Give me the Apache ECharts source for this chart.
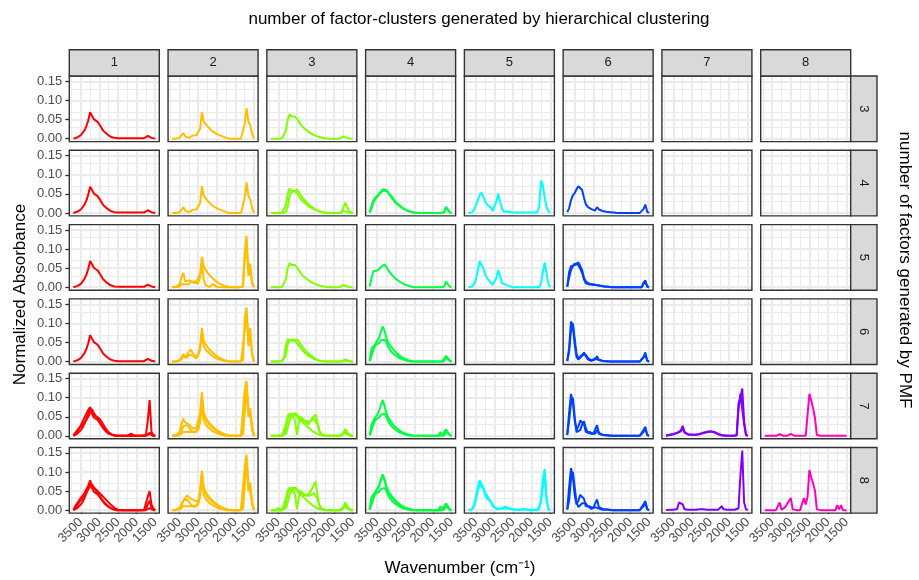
<!DOCTYPE html>
<html>
<head>
<meta charset="utf-8">
<title>FTIR factor profiles by cluster</title>
<script src="https://cdn.jsdelivr.net/npm/echarts@6/dist/echarts.min.js"></script>
<style>
html,body{margin:0;padding:0;background:#ffffff;}
#chart{width:919px;height:580px;}
</style>
</head>
<body>
<div id="chart"></div>
<script>
// Wavenumber grid shared by every profile (cm^-1), high to low
const WAVENUMBERS = [
  3700,3650,3600,3550,3500, 3450,3400,3350,3300,3250,
  3200,3150,3100,3050,3000, 2950,2900,2850,2800,2750,
  2700,2650,2600,2550,2500, 2450,2400,2350,2300,2250,
  2200,2150,2100,2050,2000, 1950,1900,1850,1800,1750,
  1700,1650,1600,1550,1500
];

// Facet labels
const CLUSTER_LABELS = ['1','2','3','4','5','6','7','8'];
const FACTOR_LABELS = ['3','4','5','6','7','8'];
const CLUSTER_COLORS = ['#FF0000','#FFBF00','#80FF00','#00FF40','#00FFFF','#0040FF','#8000FF','#FF00BF'];

// Axis ticks and grid lines
const X_TICKS = [3500,3000,2500,2000,1500];
const X_MINOR = [3750,3250,2750,2250,1750];
const Y_TICKS = [0,0.05,0.10,0.15];
const Y_MINOR = [0.025,0.075,0.125];

// Normalized absorbance profiles (one value per wavenumber above)
const R1 = [0.000,0.001,0.003,0.006,0.009, 0.014,0.022,0.033,0.048,0.069, 0.060,0.051,0.050,0.044,0.037, 0.029,0.021,0.016,0.012,0.008, 0.005,0.003,0.002,0.001,0.001, 0.001,0.001,0.001,0.001,0.001, 0.001,0.001,0.001,0.001,0.001, 0.001,0.001,0.001,0.001,0.004, 0.007,0.006,0.002,0.000,0.000];
const R5a = [0.001,0.008,0.014,0.020,0.028, 0.038,0.048,0.058,0.068,0.075, 0.062,0.055,0.056,0.048,0.038, 0.028,0.020,0.014,0.009,0.005, 0.003,0.002,0.001,0.000,0.000, 0.000,0.000,0.000,0.000,0.000, 0.002,0.006,0.001,0.000,0.000, 0.000,0.000,0.000,0.000,0.002, 0.040,0.094,0.010,0.002,0.000];
const R5b = [0.000,0.004,0.010,0.018,0.025, 0.030,0.035,0.042,0.050,0.062, 0.070,0.060,0.052,0.050,0.045, 0.038,0.030,0.022,0.015,0.009, 0.005,0.002,0.001,0.000,0.000, 0.000,0.000,0.000,0.000,0.000, 0.000,0.000,0.000,0.000,0.000, 0.000,0.000,0.000,0.000,0.001, 0.005,0.008,0.003,0.000,0.000];
const R5c = [0.000,0.002,0.005,0.010,0.015, 0.022,0.032,0.045,0.060,0.070, 0.058,0.048,0.045,0.042,0.035, 0.028,0.022,0.016,0.012,0.008, 0.005,0.003,0.001,0.000,0.000, 0.000,0.000,0.000,0.000,0.000, 0.000,0.000,0.000,0.000,0.000, 0.000,0.000,0.000,0.000,0.000, 0.003,0.005,0.001,0.000,0.000];
const R6a = [0.001,0.010,0.018,0.025,0.032, 0.038,0.045,0.055,0.065,0.078, 0.062,0.058,0.055,0.050,0.045, 0.040,0.035,0.030,0.025,0.020, 0.015,0.010,0.006,0.003,0.001, 0.000,0.000,0.000,0.000,0.000, 0.000,0.000,0.000,0.000,0.000, 0.000,0.000,0.000,0.000,0.005, 0.035,0.050,0.015,0.003,0.000];
const R6b = [0.000,0.005,0.012,0.020,0.026, 0.030,0.036,0.045,0.055,0.062, 0.068,0.060,0.052,0.046,0.038, 0.030,0.024,0.018,0.013,0.009, 0.006,0.003,0.001,0.000,0.000, 0.000,0.000,0.000,0.000,0.000, 0.000,0.000,0.000,0.000,0.000, 0.000,0.000,0.000,0.000,0.002, 0.015,0.025,0.006,0.001,0.000];

const O1 = [0.000,0.000,0.000,0.001,0.002, 0.006,0.015,0.006,0.001,0.002, 0.003,0.008,0.010,0.009,0.010, 0.025,0.070,0.045,0.038,0.032, 0.027,0.022,0.018,0.015,0.012, 0.010,0.008,0.006,0.004,0.002, 0.001,0.000,0.000,0.000,0.000, 0.000,0.000,0.000,0.002,0.040, 0.080,0.045,0.035,0.012,0.000];
const O3a = [0.000,0.000,0.001,0.003,0.008, 0.025,0.038,0.015,0.010,0.018, 0.020,0.015,0.020,0.015,0.018, 0.035,0.080,0.055,0.045,0.038, 0.032,0.027,0.022,0.018,0.014, 0.011,0.008,0.006,0.004,0.002, 0.001,0.000,0.000,0.000,0.000, 0.000,0.000,0.000,0.002,0.090, 0.135,0.045,0.062,0.010,0.000];
const O3b = [0.000,0.000,0.000,0.001,0.002, 0.008,0.012,0.008,0.005,0.008, 0.015,0.020,0.012,0.008,0.010, 0.025,0.060,0.020,0.005,0.002, 0.001,0.003,0.008,0.005,0.001, 0.000,0.000,0.000,0.000,0.000, 0.000,0.000,0.000,0.000,0.000, 0.000,0.000,0.000,0.001,0.070, 0.110,0.030,0.045,0.010,0.000];
const O4a = [0.000,0.000,0.001,0.002,0.004, 0.010,0.020,0.012,0.015,0.025, 0.032,0.022,0.015,0.012,0.015, 0.040,0.088,0.055,0.045,0.038, 0.032,0.027,0.022,0.018,0.014, 0.011,0.008,0.006,0.004,0.002, 0.001,0.000,0.000,0.000,0.000, 0.000,0.000,0.000,0.003,0.110, 0.142,0.060,0.088,0.020,0.000];
const O4b = [0.000,0.000,0.000,0.001,0.002, 0.005,0.012,0.008,0.010,0.018, 0.022,0.015,0.010,0.008,0.012, 0.030,0.070,0.040,0.032,0.026, 0.021,0.017,0.013,0.010,0.008, 0.006,0.004,0.003,0.002,0.001, 0.000,0.000,0.000,0.000,0.000, 0.000,0.000,0.000,0.002,0.080, 0.125,0.040,0.070,0.015,0.000];
const O5a = [0.000,0.001,0.002,0.005,0.010, 0.030,0.045,0.035,0.038,0.030, 0.025,0.020,0.018,0.020,0.025, 0.060,0.115,0.060,0.048,0.040, 0.034,0.028,0.023,0.019,0.015, 0.012,0.009,0.007,0.005,0.003, 0.002,0.001,0.000,0.000,0.000, 0.000,0.000,0.000,0.005,0.120, 0.144,0.075,0.080,0.025,0.000];
const O5b = [0.000,0.000,0.000,0.001,0.004, 0.012,0.025,0.020,0.028,0.022, 0.015,0.010,0.008,0.010,0.015, 0.035,0.080,0.040,0.030,0.024, 0.019,0.015,0.012,0.009,0.007, 0.005,0.003,0.002,0.001,0.000, 0.000,0.000,0.000,0.000,0.000, 0.000,0.000,0.000,0.002,0.090, 0.125,0.050,0.065,0.015,0.000];
const O5c = [0.000,0.000,0.000,0.001,0.002, 0.005,0.010,0.008,0.010,0.012, 0.010,0.008,0.010,0.012,0.018, 0.045,0.100,0.052,0.042,0.035, 0.029,0.024,0.020,0.016,0.012, 0.009,0.007,0.005,0.003,0.002, 0.001,0.000,0.000,0.000,0.000, 0.000,0.000,0.000,0.003,0.060, 0.135,0.060,0.072,0.018,0.000];
const O6a = [0.000,0.000,0.001,0.003,0.006, 0.015,0.025,0.030,0.038,0.039, 0.030,0.028,0.025,0.020,0.022, 0.050,0.103,0.060,0.048,0.040, 0.034,0.028,0.023,0.019,0.015, 0.012,0.009,0.007,0.005,0.003, 0.002,0.001,0.000,0.000,0.000, 0.000,0.000,0.000,0.005,0.110, 0.146,0.070,0.073,0.020,0.000];

const C1 = [0.000,0.000,0.000,0.000,0.000, 0.000,0.001,0.002,0.020,0.050, 0.064,0.058,0.054,0.058,0.056, 0.045,0.037,0.031,0.027,0.023, 0.019,0.015,0.012,0.010,0.008, 0.006,0.004,0.003,0.002,0.001, 0.000,0.000,0.000,0.000,0.000, 0.000,0.000,0.000,0.000,0.006, 0.009,0.002,0.000,0.000,0.000];
const C2b = [0.000,0.000,0.000,0.000,0.000, 0.000,0.000,0.000,0.002,0.015, 0.045,0.055,0.060,0.056,0.062, 0.055,0.047,0.040,0.034,0.029, 0.024,0.019,0.015,0.012,0.009, 0.006,0.004,0.002,0.001,0.000, 0.000,0.000,0.000,0.000,0.000, 0.000,0.000,0.000,0.000,0.015, 0.027,0.015,0.005,0.002,0.000];
const C4a = [0.000,0.000,0.000,0.000,0.000, 0.000,0.001,0.003,0.015,0.045, 0.057,0.058,0.057,0.060,0.058, 0.052,0.045,0.038,0.032,0.027, 0.022,0.018,0.014,0.010,0.007, 0.005,0.003,0.002,0.001,0.000, 0.000,0.000,0.000,0.000,0.000, 0.000,0.000,0.000,0.000,0.003, 0.006,0.003,0.001,0.000,0.000];
const C4b = [0.000,0.000,0.000,0.000,0.000, 0.001,0.003,0.010,0.040,0.058, 0.060,0.055,0.052,0.054,0.050, 0.042,0.035,0.029,0.024,0.020, 0.016,0.012,0.009,0.007,0.005, 0.003,0.002,0.001,0.001,0.000, 0.000,0.000,0.000,0.000,0.000, 0.000,0.000,0.000,0.000,0.002, 0.005,0.002,0.000,0.000,0.000];
const C5a = [0.000,0.000,0.000,0.000,0.000, 0.000,0.000,0.002,0.015,0.045, 0.055,0.052,0.050,0.040,0.002, 0.035,0.050,0.045,0.040,0.035, 0.030,0.035,0.045,0.050,0.056, 0.035,0.015,0.005,0.002,0.001, 0.000,0.000,0.000,0.000,0.000, 0.000,0.000,0.000,0.000,0.008, 0.018,0.010,0.004,0.001,0.000];
const C5b = [0.000,0.000,0.000,0.000,0.000, 0.000,0.000,0.005,0.030,0.052, 0.058,0.060,0.058,0.056,0.050, 0.045,0.040,0.035,0.032,0.028, 0.022,0.018,0.014,0.010,0.007, 0.005,0.003,0.002,0.001,0.000, 0.000,0.000,0.000,0.000,0.000, 0.000,0.000,0.000,0.000,0.005, 0.010,0.004,0.001,0.000,0.000];
const C5c = [0.000,0.000,0.000,0.000,0.000, 0.000,0.000,0.000,0.005,0.020, 0.040,0.050,0.055,0.060,0.055, 0.050,0.045,0.042,0.040,0.038, 0.036,0.038,0.040,0.045,0.050, 0.030,0.012,0.004,0.001,0.000, 0.000,0.000,0.000,0.000,0.000, 0.000,0.000,0.000,0.000,0.005, 0.012,0.006,0.002,0.000,0.000];
const C6a = [0.000,0.000,0.000,0.002,0.005, 0.002,0.000,0.002,0.015,0.045, 0.055,0.052,0.050,0.040,0.002, 0.035,0.050,0.045,0.040,0.038, 0.040,0.045,0.055,0.065,0.075, 0.040,0.015,0.005,0.002,0.001, 0.000,0.000,0.000,0.000,0.000, 0.000,0.000,0.000,0.000,0.008, 0.020,0.010,0.004,0.001,0.000];

const G1 = [0.002,0.020,0.033,0.040,0.045, 0.050,0.055,0.062,0.065,0.060, 0.052,0.045,0.038,0.032,0.026, 0.022,0.018,0.014,0.011,0.008, 0.006,0.004,0.003,0.002,0.001, 0.000,0.000,0.000,0.000,0.000, 0.000,0.000,0.000,0.000,0.000, 0.000,0.000,0.000,0.000,0.000, 0.001,0.016,0.010,0.001,0.000];
const G1b = [0.001,0.012,0.028,0.036,0.042, 0.048,0.052,0.058,0.062,0.058, 0.054,0.048,0.042,0.035,0.029, 0.024,0.020,0.016,0.012,0.009, 0.007,0.005,0.003,0.002,0.001, 0.001,0.000,0.000,0.000,0.000, 0.000,0.000,0.000,0.000,0.000, 0.000,0.000,0.000,0.000,0.001, 0.002,0.014,0.012,0.002,0.000];
const G3 = [0.002,0.025,0.042,0.047,0.044, 0.047,0.052,0.055,0.060,0.055, 0.045,0.038,0.032,0.027,0.022, 0.018,0.015,0.012,0.009,0.007, 0.005,0.003,0.002,0.001,0.000, 0.000,0.000,0.000,0.000,0.000, 0.000,0.000,0.000,0.000,0.000, 0.000,0.000,0.000,0.000,0.000, 0.001,0.015,0.008,0.002,0.000];
const G4a = [0.002,0.035,0.040,0.045,0.055, 0.062,0.078,0.092,0.080,0.062, 0.050,0.042,0.036,0.030,0.025, 0.020,0.016,0.012,0.009,0.007, 0.005,0.003,0.002,0.001,0.000, 0.000,0.000,0.000,0.000,0.000, 0.000,0.000,0.000,0.000,0.000, 0.000,0.000,0.000,0.000,0.000, 0.002,0.015,0.020,0.003,0.000];
const G4b = [0.001,0.015,0.030,0.042,0.040, 0.048,0.055,0.060,0.058,0.050, 0.038,0.030,0.024,0.020,0.016, 0.012,0.009,0.007,0.005,0.003, 0.002,0.001,0.000,0.000,0.000, 0.000,0.000,0.000,0.000,0.000, 0.000,0.000,0.000,0.000,0.000, 0.000,0.000,0.000,0.000,0.000, 0.001,0.010,0.014,0.002,0.000];
const G5a = [0.002,0.030,0.040,0.048,0.055, 0.065,0.080,0.094,0.078,0.060, 0.048,0.040,0.033,0.027,0.022, 0.018,0.014,0.011,0.008,0.006, 0.004,0.003,0.002,0.001,0.000, 0.000,0.000,0.000,0.000,0.000, 0.000,0.000,0.000,0.000,0.000, 0.000,0.000,0.000,0.010,0.002, 0.003,0.017,0.012,0.002,0.000];

const Cy1 = [0.000,0.000,0.002,0.008,0.020, 0.033,0.047,0.053,0.042,0.030, 0.022,0.018,0.014,0.005,0.002, 0.030,0.050,0.030,0.012,0.003, 0.002,0.004,0.003,0.002,0.002, 0.001,0.001,0.001,0.001,0.001, 0.001,0.001,0.001,0.001,0.001, 0.001,0.001,0.002,0.015,0.085, 0.072,0.040,0.015,0.005,0.000];
const Cy3 = [0.000,0.000,0.002,0.008,0.020, 0.045,0.068,0.072,0.050,0.033, 0.024,0.018,0.012,0.006,0.001, 0.025,0.045,0.030,0.010,0.008, 0.007,0.005,0.003,0.001,0.000, 0.000,0.000,0.000,0.000,0.000, 0.000,0.000,0.000,0.000,0.000, 0.000,0.000,0.000,0.000,0.010, 0.040,0.065,0.035,0.008,0.000];
const Cy6a = [0.000,0.000,0.003,0.015,0.035, 0.060,0.078,0.080,0.060,0.045, 0.038,0.030,0.025,0.015,0.008, 0.004,0.003,0.004,0.006,0.008, 0.009,0.006,0.004,0.003,0.002, 0.001,0.001,0.001,0.001,0.002, 0.004,0.002,0.001,0.001,0.001, 0.001,0.001,0.001,0.002,0.030, 0.080,0.108,0.030,0.003,0.000];
const Cy6b = [0.000,0.000,0.002,0.010,0.028, 0.050,0.068,0.072,0.055,0.040, 0.030,0.026,0.022,0.010,0.005, 0.003,0.002,0.003,0.004,0.005, 0.006,0.004,0.003,0.002,0.001, 0.001,0.000,0.000,0.000,0.001, 0.002,0.001,0.000,0.000,0.000, 0.000,0.000,0.000,0.001,0.020, 0.060,0.095,0.025,0.002,0.000];

const B1 = [0.002,0.012,0.033,0.046,0.052, 0.062,0.070,0.073,0.060,0.040, 0.023,0.016,0.013,0.010,0.005, 0.006,0.015,0.009,0.006,0.005, 0.004,0.003,0.003,0.002,0.002, 0.001,0.001,0.000,0.000,0.000, 0.000,0.000,0.000,0.000,0.000, 0.000,0.000,0.000,0.000,0.000, 0.000,0.010,0.022,0.003,0.000];
const B3a = [0.002,0.040,0.055,0.060,0.058, 0.063,0.065,0.062,0.045,0.025, 0.015,0.012,0.009,0.007,0.006, 0.010,0.006,0.004,0.004,0.003, 0.002,0.002,0.001,0.001,0.000, 0.000,0.000,0.000,0.000,0.000, 0.000,0.000,0.000,0.000,0.000, 0.000,0.000,0.000,0.000,0.000, 0.000,0.012,0.018,0.002,0.000];
const B3b = [0.001,0.025,0.045,0.055,0.062, 0.060,0.058,0.055,0.038,0.020, 0.010,0.008,0.007,0.012,0.008, 0.006,0.005,0.004,0.003,0.002, 0.002,0.001,0.001,0.000,0.000, 0.000,0.000,0.000,0.000,0.000, 0.000,0.000,0.000,0.000,0.000, 0.000,0.000,0.000,0.000,0.000, 0.000,0.008,0.015,0.002,0.000];
const B4a = [0.002,0.035,0.105,0.095,0.045, 0.012,0.005,0.010,0.015,0.024, 0.014,0.006,0.003,0.002,0.002, 0.005,0.014,0.005,0.003,0.002, 0.002,0.001,0.001,0.000,0.000, 0.000,0.000,0.000,0.000,0.000, 0.000,0.000,0.000,0.000,0.000, 0.000,0.000,0.000,0.000,0.000, 0.000,0.012,0.024,0.003,0.000];
const B4b = [0.001,0.025,0.080,0.100,0.060, 0.020,0.008,0.012,0.018,0.020, 0.018,0.010,0.005,0.003,0.003, 0.008,0.010,0.004,0.002,0.001, 0.001,0.001,0.000,0.000,0.000, 0.000,0.000,0.000,0.000,0.000, 0.000,0.000,0.000,0.000,0.000, 0.000,0.000,0.000,0.000,0.000, 0.000,0.010,0.018,0.002,0.000];
const B5a = [0.003,0.060,0.110,0.090,0.040, 0.015,0.025,0.040,0.045,0.030, 0.010,0.012,0.010,0.008,0.005, 0.010,0.028,0.008,0.004,0.003, 0.002,0.002,0.001,0.001,0.000, 0.000,0.000,0.000,0.000,0.000, 0.000,0.000,0.000,0.000,0.000, 0.000,0.000,0.000,0.000,0.000, 0.002,0.015,0.024,0.003,0.000];
const B5b = [0.002,0.040,0.085,0.100,0.050, 0.010,0.008,0.015,0.030,0.038, 0.020,0.008,0.006,0.005,0.004, 0.006,0.015,0.005,0.003,0.002, 0.001,0.001,0.000,0.000,0.000, 0.000,0.000,0.000,0.000,0.000, 0.000,0.000,0.000,0.000,0.000, 0.000,0.000,0.000,0.000,0.000, 0.000,0.010,0.018,0.002,0.000];

const P5 = [0.001,0.002,0.003,0.004,0.005, 0.006,0.008,0.012,0.014,0.026, 0.010,0.005,0.004,0.003,0.003, 0.003,0.003,0.004,0.005,0.007, 0.008,0.009,0.011,0.012,0.012, 0.013,0.010,0.007,0.005,0.003, 0.002,0.001,0.001,0.000,0.000, 0.000,0.000,0.000,0.002,0.085, 0.100,0.124,0.040,0.003,0.000];
const P5b = [0.000,0.001,0.002,0.003,0.004, 0.005,0.007,0.010,0.012,0.020, 0.008,0.004,0.003,0.003,0.003, 0.003,0.003,0.003,0.004,0.006, 0.007,0.008,0.009,0.010,0.011, 0.011,0.009,0.006,0.004,0.002, 0.001,0.001,0.000,0.000,0.000, 0.000,0.000,0.000,0.001,0.070, 0.110,0.115,0.030,0.002,0.000];
const P6 = [0.000,0.000,0.001,0.001,0.001, 0.001,0.003,0.020,0.022,0.015, 0.002,0.001,0.001,0.001,0.001, 0.001,0.001,0.001,0.002,0.003, 0.002,0.001,0.001,0.001,0.001, 0.001,0.001,0.001,0.001,0.003, 0.010,0.002,0.001,0.001,0.001, 0.001,0.001,0.001,0.001,0.005, 0.090,0.156,0.020,0.002,0.000];

const PK5 = [0.000,0.000,0.000,0.000,0.000, 0.000,0.000,0.000,0.004,0.000, 0.000,0.000,0.000,0.000,0.005, 0.000,0.000,0.000,0.000,0.000, 0.000,0.000,0.000,0.002,0.110, 0.092,0.072,0.046,0.002,0.000, 0.000,0.000,0.000,0.000,0.000, 0.000,0.000,0.000,0.000,0.003, 0.000,0.000,0.000,0.000,0.000];
const PK6 = [0.000,0.000,0.000,0.000,0.000, 0.000,0.000,0.001,0.020,0.001, 0.000,0.008,0.012,0.024,0.032, 0.002,0.000,0.000,0.000,0.000, 0.005,0.032,0.015,0.035,0.105, 0.085,0.070,0.050,0.002,0.000, 0.000,0.000,0.000,0.000,0.000, 0.000,0.000,0.000,0.000,0.013, 0.002,0.013,0.000,0.000,0.000];

// Profiles drawn in each facet: one row per number of PMF factors, one column per cluster
const FACET_PROFILES = [
  [[R1], [O1], [C1], [], [], [], [], []],
  [[R1], [O1], [C1, C2b], [G1, G1b], [Cy1], [B1], [], []],
  [[R1], [O3a, O3b], [C1], [G3], [Cy3], [B3a, B3b], [], []],
  [[R1], [O4a, O4b], [C4a, C4b], [G4a, G4b], [], [B4a, B4b], [], []],
  [[R5a, R5b, R5c], [O5a, O5b, O5c], [C5a, C5b, C5c], [G5a, G4b], [], [B5a, B5b], [P5, P5b], [PK5]],
  [[R6a, R6b, R5c], [O6a, O5b, O5c], [C6a, C5b, C5c], [G5a, G4a, G4b], [Cy6a, Cy6b], [B5a, B4b], [P6], [PK6]]
];

// Panel layout (pixels)
const LEFT0 = 69.3, COL_STEP = 98.77, PANEL_W = 90;
const TOP0 = 76, ROW_STEP = 74.3, PANEL_H = 65.6;
const STRIP = 26.3;
const X_RANGE = [1390, 3810];
const Y_RANGE = [-0.0078, 0.1642];
const FONT = '"Liberation Sans", Arial, Helvetica, sans-serif';
const GRID_COLOR = '#ebebeb';
const FRAME_COLOR = '#333333';
const FRAME_WIDTH = 1.4;

const grids = [], xAxes = [], yAxes = [], series = [], graphics = [];
const nRows = FACTOR_LABELS.length, nCols = CLUSTER_LABELS.length;

function gridLine(axisKey, value, width) {
  const item = { lineStyle: { color: GRID_COLOR, width: width, type: 'solid' } };
  item[axisKey] = value;
  return item;
}

for (let r = 0; r < nRows; r++) {
  for (let c = 0; c < nCols; c++) {
    const k = r * nCols + c;
    const left = LEFT0 + c * COL_STEP;
    const top = TOP0 + r * ROW_STEP;
    const isBottom = r === nRows - 1;
    const isLeft = c === 0;
    grids.push({ left: left, top: top, width: PANEL_W, height: PANEL_H, show: false });
    xAxes.push({
      gridIndex: k, type: 'value', min: X_RANGE[0], max: X_RANGE[1], inverse: true, position: 'bottom',
      axisLine: { show: false },
      axisTick: { show: isBottom, customValues: X_TICKS, length: 4, lineStyle: { color: FRAME_COLOR, width: 1.3 } },
      axisLabel: { show: isBottom, customValues: X_TICKS, rotate: 45, color: '#4d4d4d', fontSize: 13, fontFamily: FONT, margin: 7,
                   formatter: v => String(v) },
      splitLine: { show: false }
    });
    yAxes.push({
      gridIndex: k, type: 'value', min: Y_RANGE[0], max: Y_RANGE[1], position: 'left',
      axisLine: { show: false },
      axisTick: { show: isLeft, customValues: Y_TICKS, length: 4, lineStyle: { color: FRAME_COLOR, width: 1.3 } },
      axisLabel: { show: isLeft, customValues: Y_TICKS, color: '#4d4d4d', fontSize: 13, fontFamily: FONT, margin: 7,
                   formatter: v => v.toFixed(2) },
      splitLine: { show: false }
    });
    // panel background grid (minor lines thinner than major ones), kept beneath the spectra
    series.push({
      type: 'line', xAxisIndex: k, yAxisIndex: k, data: [], silent: true, z: 1,
      markLine: {
        z: 1, silent: true, animation: false, symbol: ['none', 'none'], label: { show: false },
        emphasis: { disabled: true },
        data: [].concat(
          X_MINOR.map(v => gridLine('xAxis', v, 1)),
          Y_MINOR.map(v => gridLine('yAxis', v, 1)),
          X_TICKS.map(v => gridLine('xAxis', v, 2)),
          Y_TICKS.map(v => gridLine('yAxis', v, 2))
        )
      }
    });
    const color = CLUSTER_COLORS[c];
    FACET_PROFILES[r][c].forEach(profile => {
      series.push({
        type: 'line', xAxisIndex: k, yAxisIndex: k,
        data: WAVENUMBERS.map((w, i) => [w, profile[i]]),
        showSymbol: false, symbol: 'none', silent: true, clip: true,
        lineStyle: { color: color, width: 2 }, itemStyle: { color: color },
        emphasis: { disabled: true }, z: 6
      });
    });
    // panel frame drawn over everything
    graphics.push({ type: 'rect', z: 20, silent: true,
      shape: { x: left, y: top, width: PANEL_W, height: PANEL_H },
      style: { fill: null, stroke: FRAME_COLOR, lineWidth: FRAME_WIDTH } });
  }
}

// Column strips along the top
CLUSTER_LABELS.forEach((lab, c) => {
  const x = LEFT0 + c * COL_STEP;
  graphics.push({ type: 'rect', z: 20, shape: { x: x, y: TOP0 - STRIP, width: PANEL_W, height: STRIP },
    style: { fill: '#d9d9d9', stroke: FRAME_COLOR, lineWidth: FRAME_WIDTH } });
  graphics.push({ type: 'text', z: 21, x: x + PANEL_W / 2, y: TOP0 - STRIP / 2,
    style: { text: lab, font: '13px ' + FONT, fill: '#1a1a1a', align: 'center', verticalAlign: 'middle' } });
});
// Row strips along the right
const stripX = LEFT0 + (nCols - 1) * COL_STEP + PANEL_W;
FACTOR_LABELS.forEach((lab, r) => {
  const y = TOP0 + r * ROW_STEP;
  graphics.push({ type: 'rect', z: 20, shape: { x: stripX, y: y, width: STRIP, height: PANEL_H },
    style: { fill: '#d9d9d9', stroke: FRAME_COLOR, lineWidth: FRAME_WIDTH } });
  graphics.push({ type: 'text', z: 21, x: stripX + STRIP / 2, y: y + PANEL_H / 2, rotation: -Math.PI / 2,
    style: { text: lab, font: '13px ' + FONT, fill: '#1a1a1a', align: 'center', verticalAlign: 'middle' } });
});

const panelsMidY = TOP0 + ((nRows - 1) * ROW_STEP + PANEL_H) / 2;
const panelsMidX = LEFT0 + ((nCols - 1) * COL_STEP + PANEL_W) / 2;
const TITLE_FONT = '17px ' + FONT;
// Titles
graphics.push({ type: 'text', x: 479, y: 19,
  style: { text: 'number of factor-clusters generated by hierarchical clustering', font: TITLE_FONT, fill: '#000000', align: 'center', verticalAlign: 'middle' } });
graphics.push({ type: 'text', x: panelsMidX, y: 568,
  style: { text: 'Wavenumber (cm\u207B\u00B9)', font: TITLE_FONT, fill: '#000000', align: 'center', verticalAlign: 'middle' } });
graphics.push({ type: 'text', x: 20, y: panelsMidY, rotation: Math.PI / 2,
  style: { text: 'Normalized Absorbance', font: TITLE_FONT, fill: '#000000', align: 'center', verticalAlign: 'middle' } });
graphics.push({ type: 'text', x: 905, y: 270, rotation: -Math.PI / 2,
  style: { text: 'number of factors generated by PMF', font: TITLE_FONT, fill: '#000000', align: 'center', verticalAlign: 'middle' } });

const chart = echarts.init(document.getElementById('chart'), null, { renderer: 'canvas' });
chart.setOption({
  animation: false,
  backgroundColor: '#ffffff',
  grid: grids, xAxis: xAxes, yAxis: yAxes, series: series,
  graphic: { elements: graphics }
});
</script>
</body>
</html>
